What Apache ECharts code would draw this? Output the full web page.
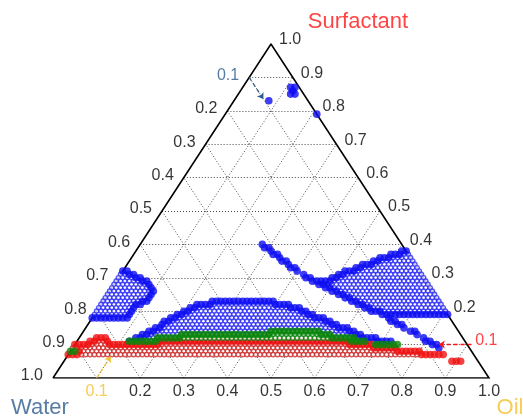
<!DOCTYPE html>
<html>
<head>
<meta charset="utf-8">
<script src="https://cdn.jsdelivr.net/npm/echarts@6/dist/echarts.min.js"></script>
<style>
  html, body { margin: 0; padding: 0; background: #fff; }
  #chart { width: 523px; height: 417px; }
</style>
</head>
<body>
<div id="chart"></div>
<script>
// ---- Ternary phase diagram: Water / Oil / Surfactant (mass fractions) ----

// Tick values shared by the three composition axes
const tickValues = [0.1, 0.2, 0.3, 0.4, 0.5, 0.6, 0.7, 0.8, 0.9, 1.0];

// Phase regions, tested on a 0.01 composition lattice.
// Each row: [surfactant, oil from, oil to]; water = 1 - oil - surfactant.
const blueDomeRows = [
  [0.23, 0.25, 0.39], [0.22, 0.22, 0.43], [0.21, 0.21, 0.46], [0.20, 0.20, 0.48],
  [0.19, 0.19, 0.50], [0.18, 0.18, 0.53], [0.17, 0.17, 0.55], [0.16, 0.17, 0.57],
  [0.15, 0.16, 0.60], [0.14, 0.15, 0.62], [0.13, 0.14, 0.64], [0.12, 0.13, 0.68],
  [0.11, 0.12, 0.72]
];
const blueOilSideRows = [
  [0.38, 0.61, 0.62], [0.37, 0.59, 0.63], [0.36, 0.57, 0.64], [0.35, 0.56, 0.65],
  [0.34, 0.54, 0.66], [0.33, 0.53, 0.67], [0.32, 0.51, 0.68], [0.31, 0.50, 0.69],
  [0.30, 0.49, 0.70], [0.29, 0.47, 0.71], [0.28, 0.47, 0.72], [0.27, 0.49, 0.73],
  [0.26, 0.51, 0.74], [0.25, 0.53, 0.75], [0.24, 0.55, 0.76], [0.23, 0.57, 0.77],
  [0.22, 0.59, 0.78], [0.21, 0.61, 0.79], [0.20, 0.63, 0.80], [0.19, 0.66, 0.81]
];
const blueWaterSideRows = [
  [0.32, 0.00, 0.01], [0.31, 0.00, 0.03], [0.30, 0.00, 0.05], [0.29, 0.00, 0.07],
  [0.28, 0.00, 0.08], [0.27, 0.00, 0.09], [0.26, 0.00, 0.10], [0.25, 0.00, 0.10],
  [0.24, 0.00, 0.10], [0.23, 0.00, 0.10], [0.22, 0.00, 0.09], [0.21, 0.00, 0.08],
  [0.20, 0.00, 0.08], [0.19, 0.00, 0.08], [0.18, 0.00, 0.08]
];
const blueBoundaryRows = [
  [0.40, 0.28, 0.28], [0.39, 0.29, 0.30], [0.38, 0.31, 0.31], [0.37, 0.32, 0.33],
  [0.36, 0.34, 0.34], [0.35, 0.35, 0.36], [0.34, 0.37, 0.37], [0.33, 0.38, 0.39],
  [0.32, 0.40, 0.40], [0.31, 0.42, 0.42], [0.30, 0.43, 0.44], [0.29, 0.45, 0.46],
  [0.18, 0.68, 0.68], [0.17, 0.69, 0.70], [0.16, 0.71, 0.72], [0.15, 0.73, 0.73],
  [0.14, 0.75, 0.76], [0.13, 0.77, 0.77], [0.12, 0.79, 0.79], [0.11, 0.80, 0.81],
  [0.10, 0.82, 0.83], [0.09, 0.84, 0.84]
];
const blueHighSurfRows = [
  [0.87, 0.11, 0.12], [0.86, 0.12, 0.12], [0.85, 0.12, 0.13],
  [0.83, 0.08, 0.08], [0.79, 0.21, 0.21]
];
const greenRows = [
  [0.14, 0.43, 0.54], [0.13, 0.23, 0.57], [0.12, 0.18, 0.63],
  [0.11, 0.12, 0.18], [0.11, 0.63, 0.66], [0.10, 0.69, 0.74],
  [0.08, 0.00, 0.01]
];
const redRows = [
  [0.12, 0.04, 0.06], [0.11, 0.03, 0.07], [0.11, 0.19, 0.62],
  [0.10, 0.00, 0.68], [0.09, 0.00, 0.74], [0.08, 0.02, 0.80],
  [0.07, 0.00, 0.86], [0.05, 0.89, 0.91]
];

// Dashed guide arrows from the 0.1 tick of each axis: [oil, surfactant] endpoints
const waterGuide = [[0.00, 0.90], [0.065, 0.835]];
const surfGuide  = [[0.91, 0.10], [0.835, 0.10]];
const oilGuide   = [[0.10, 0.00], [0.10, 0.065]];

// ---- helpers ----
const FONT = '"Liberation Sans", Arial, Helvetica, sans-serif';
const WATER_C = '#2d5b8c', OIL_C = '#f2c12e', SURF_C = '#ff1414';
const CLEAR = 'rgba(0,0,0,0)';

// ternary (oil, surfactant) -> cartesian plane of the triangle
function toXY(oil, surf) { return [oil + surf / 2, surf]; }

function lattice(rows) {
  const pts = new Map();
  rows.forEach(([s, a, b]) => {
    const si = Math.round(s * 100), ai = Math.round(a * 100), bi = Math.round(b * 100);
    for (let o = ai; o <= bi; o++) pts.set(o + ',' + si, [o, si]);
  });
  return pts;
}

// split a region into boundary points (filled) and interior points (rings)
function splitRegion(rows, closedBelow) {
  const pts = lattice(rows);
  const inside = (o, s) => o >= 0 && s >= 0 && o + s <= 100;
  const nb = [[-1, 0], [1, 0], [0, 1], [-1, 1]];
  if (closedBelow) nb.push([0, -1], [1, -1]);
  const edge = [], inner = [];
  pts.forEach(([o, s]) => {
    const isEdge = nb.some(([dx, dy]) =>
      inside(o + dx, s + dy) && !pts.has((o + dx) + ',' + (s + dy)));
    (isEdge ? edge : inner).push(toXY(o / 100, s / 100));
  });
  return { edge, inner };
}

function regionSeries(rows, color, ringColor, closedBelow) {
  const { edge, inner } = splitRegion(rows, closedBelow);
  return [
    { type: 'scatter', data: inner, symbol: 'circle', symbolSize: 4.4, z: 3, silent: true,
      itemStyle: { color: '#ffffff', borderColor: ringColor, borderWidth: 1.4 } },
    { type: 'scatter', data: edge, symbol: 'circle', symbolSize: 7.6, z: 3, silent: true,
      itemStyle: { color: color } }
  ];
}

// dotted reference grid every 0.1 in each component
const gridSegs = [];
tickValues.slice(0, 9).forEach(k => {
  gridSegs.push({ coords: [toXY(0, k), toXY(1 - k, k)] });        // constant surfactant
  gridSegs.push({ coords: [toXY(k, 0), toXY(k, 1 - k)] });        // constant oil
  gridSegs.push({ coords: [toXY(1 - k, 0), toXY(0, 1 - k)] });    // constant water
});

// tick labels
const lbl = v => v.toFixed(1);
const oilLabels = tickValues.map(v => ({
  value: toXY(v, 0), name: lbl(v), label: { color: v === 0.1 ? OIL_C : '#000' }
}));
const waterLabels = tickValues.map(v => ({
  value: toXY(0, 1 - v), name: lbl(v), label: { color: v === 0.1 ? WATER_C : '#000' }
}));
const surfLabels = tickValues.map(v => ({
  value: toXY(1 - v, v), name: lbl(v), label: { color: v === 0.1 ? SURF_C : '#000' }
}));

function labelSeries(data, position, distance, offset) {
  return {
    type: 'scatter', data, symbolSize: 2, z: 6, silent: true, clip: false,
    itemStyle: { color: CLEAR },
    label: { show: true, position, distance, offset, formatter: p => p.name,
             fontSize: 16, fontFamily: FONT }
  };
}

function guide(coords, color) {
  return {
    type: 'lines', coordinateSystem: 'cartesian2d', z: 5, silent: true,
    symbol: ['none', 'arrow'], symbolSize: 6,
    lineStyle: { color, width: 1.3, type: [4, 3], opacity: 1 },
    data: [{ coords: coords.map(p => toXY(p[0], p[1])) }]
  };
}

const option = {
  animation: false,
  backgroundColor: '#ffffff',
  grid: { left: 53, right: 34, top: 44, bottom: 39 },
  xAxis: { type: 'value', min: 0, max: 1, show: false },
  yAxis: { type: 'value', min: 0, max: 1, show: false },
  series: [
    { type: 'lines', coordinateSystem: 'cartesian2d', z: 1, silent: true,
      lineStyle: { color: '#4a4a4a', width: 1, type: [1, 2], opacity: 1 },
      data: gridSegs },
    { type: 'lines', coordinateSystem: 'cartesian2d', polyline: true, z: 2, silent: true,
      lineStyle: { color: '#000', width: 1.6, opacity: 1, join: 'miter' },
      data: [{ coords: [toXY(0, 0), toXY(1, 0), toXY(0, 1), toXY(0, 0)] }] },
    ...regionSeries(blueDomeRows, '#0c0cf2', '#2a2af8', false),
    ...regionSeries(blueOilSideRows, '#0c0cf2', '#2a2af8', true),
    ...regionSeries(blueWaterSideRows, '#0c0cf2', '#2a2af8', true),
    ...regionSeries(blueBoundaryRows, '#0c0cf2', '#2a2af8', true),
    ...regionSeries(blueHighSurfRows, '#0c0cf2', '#2a2af8', true),
    ...regionSeries(redRows, '#f01010', '#cc2a2a', false),
    ...regionSeries(greenRows, '#0a870a', '#0a870a', false),
    guide(waterGuide, WATER_C),
    guide(surfGuide, SURF_C),
    guide(oilGuide, OIL_C),
    labelSeries(oilLabels, 'bottom', 5, [0, 0]),
    labelSeries(waterLabels, 'left', 9, [0, -2]),
    labelSeries(surfLabels, 'right', 7, [0, -4]),
    { type: 'scatter', symbolSize: 2, z: 6, silent: true, clip: false,
      itemStyle: { color: CLEAR },
      label: { show: true, position: 'inside', formatter: p => p.name,
               fontSize: 22, fontFamily: FONT },
      data: [
        { value: toXY(0, 1), name: 'Surfactant', label: { color: SURF_C, offset: [87, -22] } },
        { value: toXY(0, 0), name: 'Water', label: { color: WATER_C, offset: [-13, 30] } },
        { value: toXY(1, 0), name: 'Oil', label: { color: OIL_C, offset: [21, 30] } }
      ] }
  ]
};

echarts.init(document.getElementById('chart'), null, { renderer: 'canvas' }).setOption(option);
</script>
</body>
</html>
